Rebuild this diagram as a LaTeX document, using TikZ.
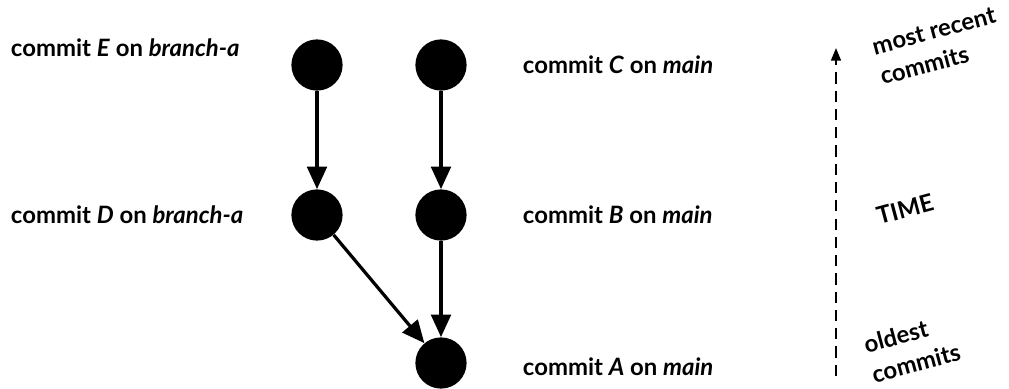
\documentclass[tikz,border=0pt]{standalone}
\usepackage{fontspec}
\setmainfont{Lato}
\usepackage{tikz}
\usetikzlibrary{arrows.meta}
\tikzset{
  commit/.style={circle, fill=black, minimum size=1.28cm, inner sep=0},
  parent/.style={line width=2.3pt, -{Triangle[length=16pt,width=14pt]}},
  label/.style={font=\fontsize{17}{22}\selectfont\bfseries},
}

\begin{document}
\begin{tikzpicture}[x=0.025cm, y=-0.025cm]
\useasboundingbox (0, 0) rectangle (1009, 389);
\node [commit] (E) at (317, 65) {};
\node [commit] (C) at (441, 65) {};
\node [commit] (D) at (317, 215) {};
\node [commit] (B) at (441, 215) {};
\node [commit] (A) at (441, 363) {};
\draw [parent] (E) -- (D);
\draw [parent] (C) -- (B);
\draw [parent] (D) -- (A);
\draw [parent] (B) -- (A);
\node [label, right] (lE) at (6, 48) {commit \textit{E} on \textit{branch-a}};
\node [label, right] (lD) at (6, 215) {commit \textit{D} on \textit{branch-a}};
\node [label, right] (lC) at (518, 65) {commit \textit{C} on \textit{main}};
\node [label, right] (lB) at (518, 215) {commit \textit{B} on \textit{main}};
\node [label, right] (lA) at (518, 367) {commit \textit{A} on \textit{main}};
% time axis
\coordinate (old) at (836, 376);
\coordinate (new) at (836, 48);
\draw [line width=1.5pt, dash pattern=on 8pt off 5pt, -{Triangle[length=9pt,width=7pt]}] (old) -- (new);
\node [label, rotate=15, align=left] (recent) at (938, 46) {most recent\\commits};
\node [label, rotate=15] (time) at (905, 209) {TIME};
\node [label, rotate=15, align=left] (oldest) at (912, 348) {oldest\\commits};
\end{tikzpicture}
\end{document}
